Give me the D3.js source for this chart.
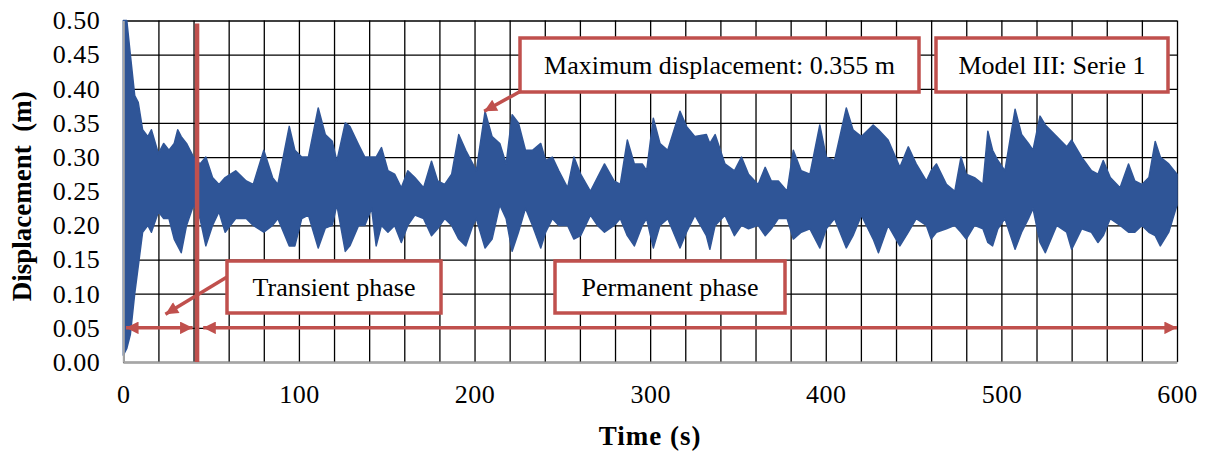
<!DOCTYPE html>
<meta charset='utf-8'>
<body style='margin:0;background:#fff'>
<script src='https://d3js.org/d3.v7.min.js'></script>
<script>
  // envelope of the displacement record
  const times = [0, 2, 4, 6.5, 8.5, 11, 14, 16, 20, 23, 26, 29, 31, 33, 36, 40, 43.7, 47, 50.8, 54.5,
    58, 64, 70, 74, 80, 85, 88, 94.5, 97.7, 101.6, 105.4, 111, 115, 119, 121.6, 126.4, 129, 134, 137.5, 141.4,
    144, 147, 150.7, 154.5, 158.3, 162, 166, 171, 175.5, 179, 183, 187, 191, 195, 199, 201, 206, 210, 214.4, 218,
    221.4, 225, 229, 233, 237.7, 240.5, 244.3, 248, 253, 256.6, 260.4, 266, 270, 274, 279.5, 283, 287, 291, 295.5, 298,
    301.8, 305.6, 310, 317, 320.7, 325.5, 332, 334, 337, 342.6, 348, 352, 356, 361.5, 365.5, 369, 373, 378, 381.5, 386,
    391, 396.6, 400.3, 405, 411.7, 415.5, 420.3, 427, 430, 435.5, 442.2, 447, 451.5, 457.3, 460, 463, 468.7, 473.5, 477, 480,
    484.7, 489.5, 492.3, 495, 498, 502, 507.8, 511.5, 515.4, 518, 522, 525, 531.5, 537.2, 540, 545.7, 551.3, 555, 558, 562,
    567.6, 572.4, 576, 580, 584, 587.6, 590.5, 595.3, 600];
  const upper = [0.50, 0.50, 0.45, 0.39, 0.38, 0.34, 0.33, 0.34, 0.305, 0.32, 0.31, 0.32, 0.34, 0.33, 0.32, 0.30, 0.29, 0.30, 0.27, 0.26,
    0.27, 0.28, 0.265, 0.26, 0.31, 0.27, 0.26, 0.345, 0.31, 0.30, 0.30, 0.372, 0.333, 0.323, 0.294, 0.35, 0.345, 0.318, 0.30, 0.30,
    0.30, 0.314, 0.28, 0.275, 0.255, 0.28, 0.27, 0.255, 0.294, 0.265, 0.26, 0.275, 0.333, 0.31, 0.29, 0.28, 0.367, 0.33, 0.32, 0.29,
    0.362, 0.35, 0.31, 0.31, 0.32, 0.295, 0.30, 0.28, 0.255, 0.30, 0.275, 0.25, 0.27, 0.29, 0.265, 0.26, 0.325, 0.29, 0.29, 0.28,
    0.357, 0.32, 0.31, 0.367, 0.345, 0.33, 0.333, 0.32, 0.333, 0.29, 0.28, 0.30, 0.275, 0.26, 0.285, 0.265, 0.265, 0.25, 0.31, 0.28,
    0.275, 0.347, 0.30, 0.295, 0.372, 0.34, 0.33, 0.347, 0.34, 0.325, 0.285, 0.315, 0.29, 0.265, 0.28, 0.29, 0.26, 0.25, 0.30, 0.275,
    0.27, 0.26, 0.338, 0.31, 0.295, 0.28, 0.37, 0.333, 0.32, 0.31, 0.36, 0.347, 0.33, 0.315, 0.325, 0.30, 0.28, 0.275, 0.295, 0.27,
    0.255, 0.29, 0.265, 0.26, 0.27, 0.323, 0.30, 0.29, 0.275];
  const lower = [0.01, 0.02, 0.04, 0.10, 0.14, 0.19, 0.20, 0.19, 0.22, 0.21, 0.21, 0.18, 0.17, 0.16, 0.20, 0.23, 0.21, 0.17, 0.20, 0.22,
    0.19, 0.21, 0.21, 0.20, 0.19, 0.20, 0.21, 0.17, 0.17, 0.21, 0.215, 0.167, 0.196, 0.20, 0.23, 0.162, 0.17, 0.20, 0.20, 0.225,
    0.17, 0.20, 0.19, 0.20, 0.175, 0.20, 0.215, 0.21, 0.185, 0.195, 0.21, 0.20, 0.18, 0.17, 0.20, 0.21, 0.167, 0.18, 0.23, 0.21,
    0.162, 0.19, 0.225, 0.20, 0.167, 0.19, 0.21, 0.20, 0.20, 0.18, 0.185, 0.215, 0.20, 0.19, 0.20, 0.21, 0.185, 0.17, 0.20, 0.21,
    0.167, 0.20, 0.21, 0.167, 0.19, 0.215, 0.185, 0.165, 0.20, 0.215, 0.185, 0.20, 0.195, 0.20, 0.185, 0.195, 0.21, 0.21, 0.18, 0.19,
    0.195, 0.167, 0.195, 0.21, 0.167, 0.185, 0.215, 0.18, 0.16, 0.20, 0.17, 0.19, 0.21, 0.20, 0.18, 0.19, 0.195, 0.20, 0.19, 0.18,
    0.20, 0.195, 0.175, 0.17, 0.195, 0.21, 0.165, 0.19, 0.21, 0.225, 0.175, 0.16, 0.20, 0.19, 0.165, 0.195, 0.19, 0.175, 0.185, 0.21,
    0.20, 0.19, 0.19, 0.20, 0.19, 0.185, 0.17, 0.19, 0.23];

  const yTicks = d3.range(0, 0.501, 0.05);
  const xLabelTicks = [0, 100, 200, 300, 400, 500, 600];
  const xGridTicks = d3.range(0, 601, 20);

  const transientEnd = 42;      // red separator, s
  const phaseLevel = 0.05;      // height of the phase arrows, m

  const margin = { top: 20.5, right: 28, bottom: 89, left: 123.3 };
  const width = 1205 - margin.left - margin.right;
  const height = 451 - margin.top - margin.bottom;
  const red = '#c0504d';
  const blue = '#2f5597';
  const serif = '"Liberation Serif", "Times New Roman", serif';

  const x = d3.scaleLinear().domain([0, 600]).range([0, width]);
  const y = d3.scaleLinear().domain([0, 0.5]).range([height, 0]);

  const svg = d3.select('body').append('svg')
    .attr('width', 1205)
    .attr('height', 451)
    .style('font-family', serif);

  const defs = svg.append('defs');
  defs.append('marker')
    .attr('id', 'head')
    .attr('viewBox', '0 0 10 10')
    .attr('refX', 10).attr('refY', 5)
    .attr('markerWidth', 4).attr('markerHeight', 3.6)
    .attr('markerUnits', 'strokeWidth')
    .attr('orient', 'auto-start-reverse')
    .append('path')
      .attr('d', 'M0,0 L10,5 L0,10 Z')
      .attr('fill', red);

  const g = svg.append('g')
    .attr('transform', `translate(${margin.left}, ${margin.top})`);

  // grid
  g.append('g')
    .attr('class', 'grid')
    .call(d3.axisLeft(y).tickValues(yTicks).tickSize(-width).tickFormat(''))
    .call(s => s.select('.domain').remove());
  g.append('g')
    .attr('class', 'grid')
    .attr('transform', `translate(0, ${height})`)
    .call(d3.axisBottom(x).tickValues(xGridTicks).tickSize(-height).tickFormat(''))
    .call(s => s.select('.domain').remove());
  g.selectAll('.grid line')
    .attr('stroke', '#000')
    .attr('stroke-width', 1.3);

  // signal band
  const series = times.map((t, i) => ({ t, hi: upper[i], lo: lower[i] }));
  const area = d3.area()
    .x(d => x(d.t))
    .y0(d => y(d.lo))
    .y1(d => y(d.hi));
  g.append('path')
    .datum(series)
    .attr('d', area)
    .attr('fill', blue)
    .attr('stroke', blue)
    .attr('stroke-width', 1.5)
    .attr('stroke-linejoin', 'round');

  // axes
  g.append('g')
    .call(d3.axisLeft(y).tickValues(yTicks).tickSize(0).tickPadding(23).tickFormat(d3.format('.2f')));
  g.append('g')
    .attr('transform', `translate(0, ${height})`)
    .call(d3.axisBottom(x).tickValues(xLabelTicks).tickSize(0).tickPadding(23).tickFormat(d3.format('d')));
  svg.selectAll('.domain')
    .attr('stroke', '#a6a6a6')
    .attr('stroke-width', 2);
  svg.selectAll('.tick text')
    .style('font-family', serif)
    .style('font-size', '26px')
    .style('letter-spacing', '0.5px')
    .attr('fill', '#000');

  svg.append('text')
    .attr('x', margin.left + x(300))
    .attr('y', 445)
    .attr('text-anchor', 'middle')
    .style('font-size', '27px')
    .style('font-weight', 'bold')
    .style('letter-spacing', '1px')
    .text('Time (s)');
  svg.append('text')
    .attr('transform', `translate(31, ${margin.top + y(0.25) + 5}) rotate(-90)`)
    .attr('text-anchor', 'middle')
    .style('font-size', '27px')
    .style('font-weight', 'bold')
    .style('white-space', 'pre')
    .text('Displacement  (m)');

  // phase separator and arrows
  g.append('line')
    .attr('x1', x(transientEnd)).attr('x2', x(transientEnd))
    .attr('y1', 3).attr('y2', height)
    .attr('stroke', red)
    .attr('stroke-width', 4.5);

  const arrows = [[1.5, transientEnd - 2.5], [transientEnd + 3.5, 600]];
  g.selectAll('.phase')
    .data(arrows)
    .join('line')
      .attr('class', 'phase')
      .attr('x1', d => x(d[0])).attr('x2', d => x(d[1]))
      .attr('y1', y(phaseLevel)).attr('y2', y(phaseLevel))
      .attr('stroke', red)
      .attr('stroke-width', 3.5)
      .attr('marker-start', 'url(#head)')
      .attr('marker-end', 'url(#head)');

  // callouts: box in pixels of the svg, pointer ends at a data point
  const callouts = [
    { text: 'Transient phase', box: [227, 261, 214, 52], from: [227, 277], to: [24, 0.07] },
    { text: 'Permanent phase', box: [555, 261, 230, 52], from: null, to: null },
    { text: 'Maximum displacement: 0.355 m', box: [520, 38, 399, 54], from: [521, 91], to: [205.5, 0.367] },
    { text: 'Model III: Serie 1', box: [936, 38, 232, 54], from: null, to: null }
  ];

  callouts.forEach(c => {
    if (c.from) {
      svg.append('line')
        .attr('x1', c.from[0]).attr('y1', c.from[1])
        .attr('x2', margin.left + x(c.to[0])).attr('y2', margin.top + y(c.to[1]))
        .attr('stroke', red)
        .attr('stroke-width', 3.5)
        .attr('marker-end', 'url(#head)');
    }
    svg.append('rect')
      .attr('x', c.box[0]).attr('y', c.box[1])
      .attr('width', c.box[2]).attr('height', c.box[3])
      .attr('fill', '#fff')
      .attr('stroke', red)
      .attr('stroke-width', 3.5);
    svg.append('text')
      .attr('x', c.box[0] + c.box[2] / 2)
      .attr('y', c.box[1] + c.box[3] / 2 + 9)
      .attr('text-anchor', 'middle')
      .style('font-size', '26px')
      .text(c.text);
  });
</script>
